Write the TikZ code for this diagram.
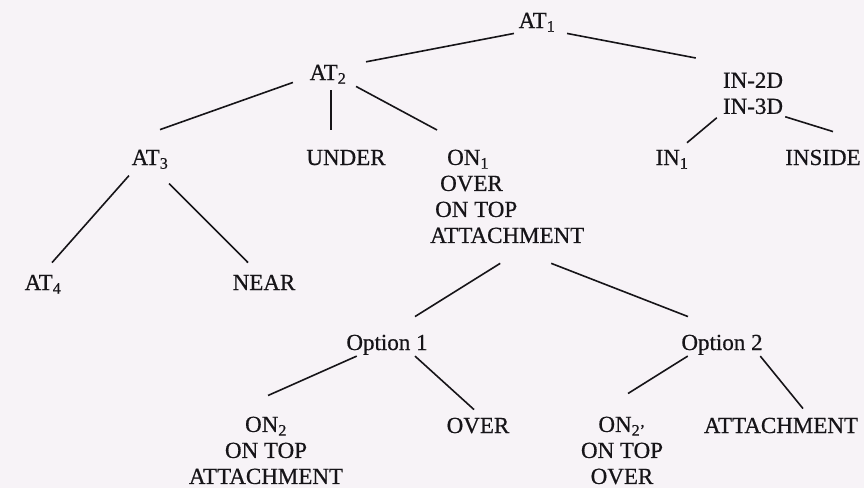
\documentclass[tikz,border=0pt]{standalone}
\usepackage{fontspec}
\setmainfont{Liberation Serif}[FakeBold=0.6]
\usepackage{tikz}
\definecolor{paper}{RGB}{247,243,247}
\definecolor{ink}{RGB}{22,20,24}

\begin{document}
\begin{tikzpicture}[x=1pt,y=-1pt,
    lbl/.style={font=\fontsize{23}{26}\selectfont,text=ink,inner sep=0pt,anchor=base},
    stack/.style={lbl,anchor=north,align=center},
    edge/.style={draw=ink,line width=1.6pt}]
  \fill[paper] (0,0) rectangle (864,488);
  \useasboundingbox (0,0) rectangle (864,488);

  % labels
  \node[lbl] (at1) at (537,28) {AT\textsubscript{1}};
  \node[lbl] (at2) at (328,80) {AT\textsubscript{2}};
  \node[stack] (in23) at (753,72.4) {IN-2D\\IN-3D};
  \node[lbl] (at3) at (150,165) {AT\textsubscript{3}};
  \node[lbl] (under) at (346,165) {UNDER};
  \node[stack,anchor=north west,align=left] (on1) at (430,149.5)
    {\hspace*{17pt}ON\textsubscript{1}\\\hspace*{10pt}OVER\\\hspace*{5pt}ON TOP\\ATTACHMENT};
  \node[lbl] (in1) at (672,165) {IN\textsubscript{1}};
  \node[lbl] (inside) at (823,165) {INSIDE};
  \node[lbl] (at4) at (43,290) {AT\textsubscript{4}};
  \node[lbl] (near) at (264,290) {NEAR};
  \node[lbl] (opt1) at (387,350) {Option 1};
  \node[lbl] (opt2) at (722,350) {Option 2};
  \node[stack] (on2) at (266,416.5) {ON\textsubscript{2}\\ON TOP\\ATTACHMENT};
  \node[lbl] (over) at (478,433) {OVER};
  \node[stack] (on2p) at (622,416.5) {ON\textsubscript{2'}\\ON TOP\\OVER};
  \node[lbl] (att) at (781,433) {ATTACHMENT};

  % tree lines
  \draw[edge] ([shift={(-4.5,1.5)}]at1.south west) -- ([shift={(19.5,-2.8)}]at2.north east);
  \draw[edge] ([shift={(11.5,1.5)}]at1.south east) -- ([shift={(-27,-14.4)}]in23.north west);
  \draw[edge] ([shift={(-16.5,-1.5)}]at2.south west) -- ([shift={(10,-20)}]at3.north);
  \draw[edge] ([shift={(3,6.5)}]at2.south) -- ([shift={(-15,-20)}]under.north);
  \draw[edge] ([shift={(9.5,2.5)}]at2.south east) -- ([shift={(7,-19.5)}]on1.north west);
  \draw[edge] ([shift={(-6,3.5)}]in23.south west) -- ([shift={(15,-7)}]in1.north);
  \draw[edge] ([shift={(2,2.5)}]in23.south east) -- ([shift={(10,-18)}]inside.north);
  \draw[edge] ([shift={(-2.5,6.5)}]at3.south west) -- ([shift={(9,-12)}]at4.north);
  \draw[edge] ([shift={(0.5,14.5)}]at3.south east) -- ([shift={(-16,-12)}]near.north);
  \draw[edge] ([shift={(-7,20)}]on1.south) -- ([shift={(28,-18)}]opt1.north);
  \draw[edge] ([shift={(44,20)}]on1.south) -- ([shift={(-34,-18)}]opt2.north);
  \draw[edge] ([shift={(10.5,1)}]opt1.south west) -- ([shift={(2,-21)}]on2.north);
  \draw[edge] ([shift={(28,1)}]opt1.south) -- ([shift={(-4,-8)}]over.north);
  \draw[edge] ([shift={(6.5,1)}]opt2.south west) -- ([shift={(6,-23)}]on2p.north);
  \draw[edge] ([shift={(-2.5,1)}]opt2.south east) -- ([shift={(22,-9)}]att.north);
\end{tikzpicture}
\end{document}
